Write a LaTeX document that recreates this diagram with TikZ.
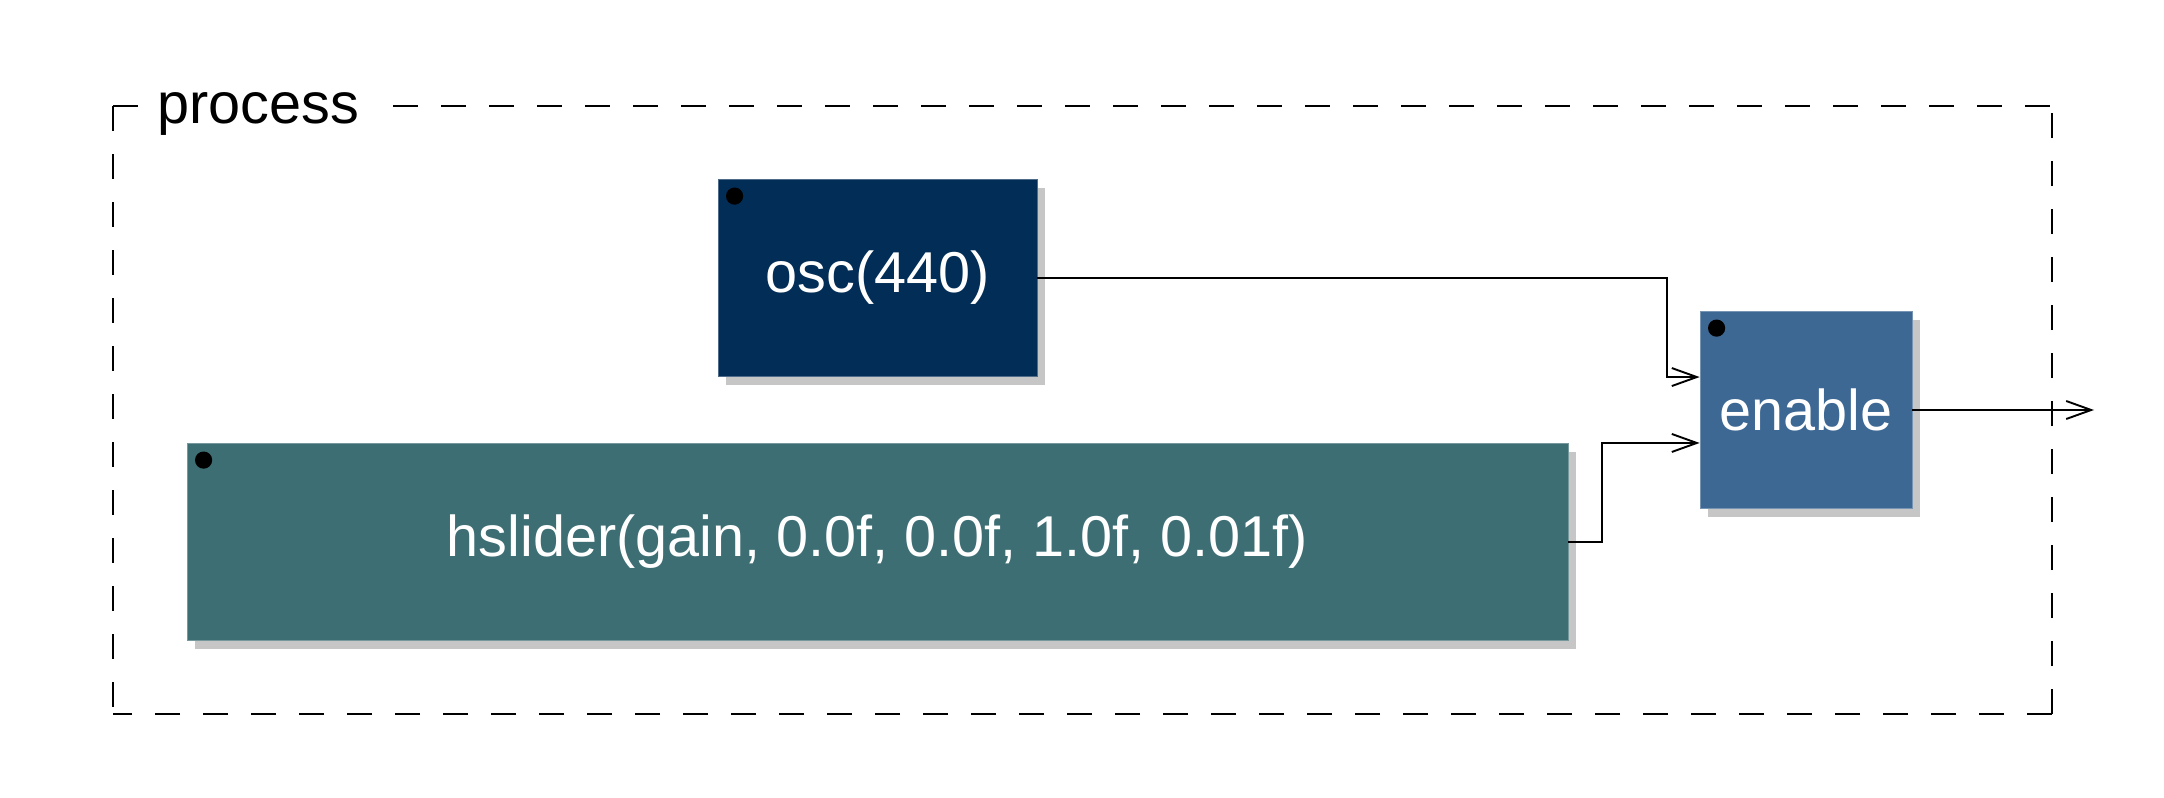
\documentclass[tikz,border=0pt]{standalone}
\usepackage{fontspec}
\setmainfont{Liberation Sans}
\usetikzlibrary{arrows.meta,shadows,calc}
\definecolor{oscblue}{HTML}{022D56}
\definecolor{enableblue}{HTML}{3D6893}
\definecolor{slidergreen}{HTML}{3D6E74}
\definecolor{shadowgray}{HTML}{C6C6C6}

\begin{document}
\begin{tikzpicture}[x=.5pt, y=-.5pt]
	\tikzstyle{every node} = [font=\fontsize{28.8}{34}\selectfont]
	\tikzstyle{block} = [rectangle, text=white, minimum height=98.5pt, inner sep=0pt, line width=.4pt,
		general shadow={fill=shadowgray, shadow xshift=4pt, shadow yshift=-4pt}]
	\tikzstyle{wire} = [line width=.95pt]
	\tikzstyle{port} = [-{Straight Barb[length=12.5pt,width=9pt,line width=.95pt]}]
	\tikzstyle{frame} = [line width=.9pt, dash pattern=on 12.5pt off 11.5pt]
	\useasboundingbox (0,0) rectangle (2164,798);
	% group frame
	\node[anchor=base west, inner sep=0pt] (title) at (157,123) {process};
	\draw[frame] (113,106) -- (138,106)
		(113,106) -- (113,714)
		(2052,714) -- (113,714)
		(2052,714) -- (2052,106)
		(393,106) -- (2052,106);
	% blocks
	\node[block, fill=oscblue, draw=oscblue!70!white, minimum width=159.5pt] (osc) at (877.5,278) {osc(440)};
	\node[block, fill=slidergreen, draw=slidergreen!70!white, minimum width=690.5pt] (slider) at (877.5,542) {hslider(gain, 0.0f, 0.0f, 1.0f, 0.01f)};
	\node[block, fill=enableblue, draw=enableblue!70!white, minimum width=106pt] (enable) at (1806,410) {enable};
	\fill (osc.north west) ++(17,17) circle (4.3pt);
	\fill (slider.north west) ++(17,17) circle (4.3pt);
	\fill (enable.north west) ++(17,17) circle (4.3pt);
	% connections
	\coordinate (in1) at ($(enable.north west)!1/3!(enable.south west)$);
	\coordinate (in2) at ($(enable.north west)!2/3!(enable.south west)$);
	\coordinate (out) at (2094,410);
	\draw[wire, port] (osc.east) -- (1667,278) |- (in1);
	\draw[wire, port] (slider.east) -- (1602,542) |- (in2);
	\draw[wire, port] (enable.east) -- (out);
\end{tikzpicture}
\end{document}
